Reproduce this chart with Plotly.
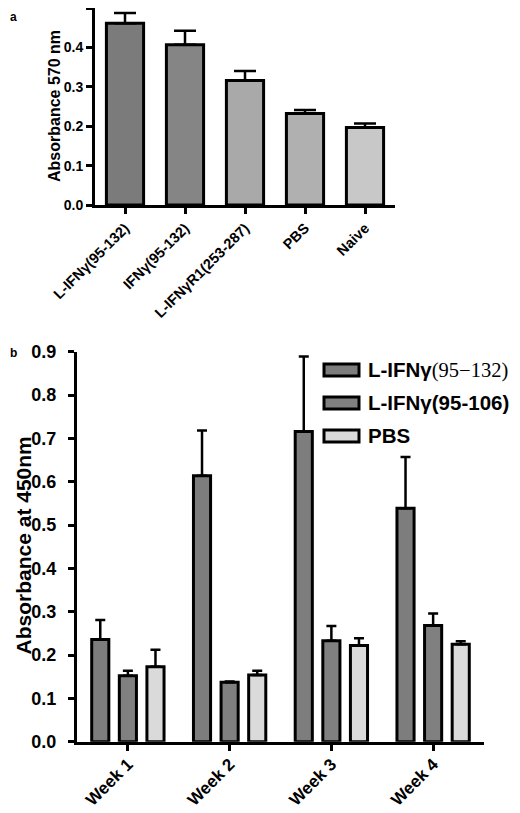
import plotly.graph_objects as go

# ---------------- data ----------------
a_categories = ["L-IFNγ(95-132)", "IFNγ(95-132)", "L-IFNγR1(253-287)", "PBS", "Naive"]
a_values = [0.461, 0.407, 0.316, 0.232, 0.197]
a_errors = [0.026, 0.035, 0.024, 0.009, 0.010]

b_weeks = ["Week 1", "Week 2", "Week 3", "Week 4"]
b_series_names = ["L-IFNγ(95−132)", "L-IFNγ(95-106)", "PBS"]
b_s1_values = [0.236, 0.614, 0.716, 0.539]
b_s1_errors = [0.045, 0.104, 0.173, 0.118]
b_s2_values = [0.152, 0.137, 0.233, 0.268]
b_s2_errors = [0.012, 0.002, 0.034, 0.028]
b_s3_values = [0.173, 0.154, 0.222, 0.225]
b_s3_errors = [0.039, 0.010, 0.017, 0.007]

a_yticks = [0.0, 0.1, 0.2, 0.3, 0.4, 0.5]
b_yticks = [0.0, 0.1, 0.2, 0.3, 0.4, 0.5, 0.6, 0.7, 0.8, 0.9]

# ---------------- style ----------------
# the page body has an 8px default margin, so the figure is sized to fill
# the rest of the 520x813 window and positions are given in window pixels
OFF = 8
W, H = 520 - OFF, 813 - OFF
FONT = "Liberation Sans, Arial, sans-serif"
a_colors = ["#7b7b7b", "#858585", "#a9a9a9", "#b0b0b0", "#c8c8c8"]
b_colors = ["#7d7d7d", "#808080", "#dadada"]
LW = 3

def clamp(v):
    return min(1.0, max(0.0, v))

def px_x(p):
    return clamp((p - OFF) / W)

def px_y(p):
    return clamp(1 - (p - OFF) / H)

fig = go.Figure()

# panel a
fig.add_trace(go.Bar(
    x=a_categories, y=a_values,
    marker=dict(color=a_colors, line=dict(color="black", width=LW)),
    error_y=dict(type="data", symmetric=False, array=a_errors,
                 arrayminus=[0] * len(a_errors), color="black",
                 thickness=2.5, width=11),
    width=0.62, showlegend=False,
    xaxis="x", yaxis="y",
))

# panel b
b_vals = [b_s1_values, b_s2_values, b_s3_values]
b_errs = [b_s1_errors, b_s2_errors, b_s3_errors]
for name, vals, errs, col in zip(b_series_names, b_vals, b_errs, b_colors):
    fig.add_trace(go.Bar(
        x=b_weeks, y=vals, name=name,
        marker=dict(color=col, line=dict(color="black", width=LW)),
        error_y=dict(type="data", symmetric=False, array=errs,
                     arrayminus=[0] * len(errs), color="black",
                     thickness=2.5, width=5),
        showlegend=False,
        xaxis="x2", yaxis="y2",
    ))

axis_common = dict(showline=True, linecolor="black", linewidth=LW,
                   ticks="outside", tickcolor="black", tickwidth=LW,
                   ticklen=6, showgrid=False, zeroline=False,
                   automargin=False, fixedrange=True)

fig.update_layout(
    template="none",
    width=W, height=H,
    margin=dict(l=0, r=0, t=0, b=0, pad=0, autoexpand=False),
    paper_bgcolor="white", plot_bgcolor="white",
    barmode="group", bargap=0.186, bargroupgap=0.38,
    font=dict(family=FONT, color="black"),
    xaxis=dict(domain=[px_x(95), px_x(395)], range=[-0.5, 4.5],
               anchor="y", tickangle=-45,
               tickfont=dict(size=14.5, weight="bold"), **axis_common),
    yaxis=dict(domain=[px_y(205), px_y(8)], range=[0, 0.5],
               anchor="x", tickvals=a_yticks, tickformat=".1f",
               tickfont=dict(size=14, weight="bold"), **axis_common),
    xaxis2=dict(domain=[px_x(77), px_x(484)], range=[-0.5, 3.5],
                anchor="y2", tickangle=-45, ticklabelstandoff=-3,
                tickfont=dict(size=17, weight="bold"), **axis_common),
    yaxis2=dict(domain=[px_y(741.7), px_y(351.7)], range=[0, 0.9],
                anchor="x2", tickvals=b_yticks, tickformat=".1f",
                ticklabelstandoff=8,
                tickfont=dict(size=18, weight="bold"), **axis_common),
)

annotations = [
    dict(text="<b>a</b>", x=px_x(8), y=px_y(8), xanchor="left", yanchor="top",
         font=dict(size=12)),
    dict(text="<b>b</b>", x=px_x(8), y=px_y(344), xanchor="left", yanchor="top",
         font=dict(size=12)),
    dict(text="<b>Absorbance 570 nm</b>", x=px_x(55), y=px_y(106),
         textangle=-90, xanchor="center", yanchor="middle",
         font=dict(size=16)),
    dict(text="<b>Absorbance at 450nm</b>", x=px_x(9), y=px_y(546),
         textangle=-90, xanchor="left", yanchor="middle",
         font=dict(size=21)),
]

# custom legend for panel b (wide rectangular swatches)
legend_labels = [
    "<b>L-IFNγ</b><span style=\"font-family:'Liberation Serif',serif;font-weight:normal\">(95−132)</span>",
    "<b>L-IFNγ(95-106)</b>",
    "<b>PBS</b>",
]
legend_rows = [370, 403, 436]
shapes = []
for lab, cy, col in zip(legend_labels, legend_rows, b_colors):
    shapes.append(dict(type="rect", xref="paper", yref="paper",
                       x0=px_x(324), x1=px_x(359), y0=px_y(cy + 6), y1=px_y(cy - 6),
                       fillcolor=col, line=dict(color="black", width=LW)))
    annotations.append(dict(text=lab, x=px_x(366), y=px_y(cy), xanchor="left",
                            yanchor="middle", font=dict(size=20.5)))

for an in annotations:
    an.update(xref="paper", yref="paper", showarrow=False)

fig.update_layout(annotations=annotations, shapes=shapes)

fig.write_html("out.html")
